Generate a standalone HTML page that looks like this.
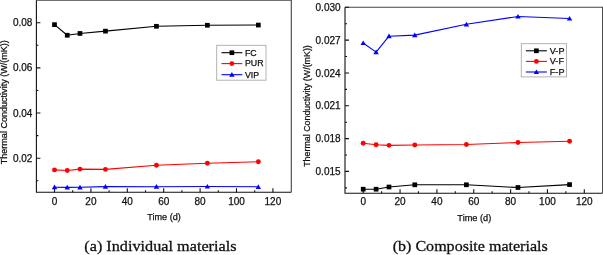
<!DOCTYPE html>
<html><head><meta charset="utf-8"><style>
html,body{margin:0;padding:0;background:#fff;}
svg{display:block;will-change:transform;}
text{stroke:#111;stroke-width:0.25px;}
svg{font-family:"Liberation Sans",sans-serif;}
</style></head><body>
<svg width="603" height="255" viewBox="0 0 603 255">
<rect width="603" height="255" fill="#fff"/>
<path d="M36.4 0.2H291.3V192.2" fill="none" stroke="#444" stroke-width="1.1"/>
<path d="M36.4 0.2V192.2H291.3" fill="none" stroke="#111" stroke-width="1.1"/>
<path d="M54.5 192.2v-4M90.9 192.2v-4M127.3 192.2v-4M163.7 192.2v-4M200.1 192.2v-4M236.5 192.2v-4M272.9 192.2v-4M72.7 192.2v-2M109.1 192.2v-2M145.5 192.2v-2M181.9 192.2v-2M218.3 192.2v-2M254.7 192.2v-2M36.4 158.2h4M36.4 113.03h4M36.4 67.87h4M36.4 22.7h4M36.4 180.78h2M36.4 135.62h2M36.4 90.45h2M36.4 45.28h2" fill="none" stroke="#111" stroke-width="1.1"/>
<g font-size="10" fill="#111"><text x="54.5" y="205" text-anchor="middle">0</text><text x="90.9" y="205" text-anchor="middle">20</text><text x="127.3" y="205" text-anchor="middle">40</text><text x="163.7" y="205" text-anchor="middle">60</text><text x="200.1" y="205" text-anchor="middle">80</text><text x="236.5" y="205" text-anchor="middle">100</text><text x="272.9" y="205" text-anchor="middle">120</text><text x="32.4" y="161.8" text-anchor="end">0.02</text><text x="32.4" y="116.63" text-anchor="end">0.04</text><text x="32.4" y="71.47" text-anchor="end">0.06</text><text x="32.4" y="26.3" text-anchor="end">0.08</text></g>
<text x="164" y="220" text-anchor="middle" font-size="9.1" fill="#111">Time (d)</text>
<text transform="translate(6.7,102.2) rotate(-90)" text-anchor="middle" font-size="9.05" fill="#111">Thermal Conductivity (W/(mK))</text>
<polyline points="54.5,24.65 67.24,35.25 79.98,33.45 105.46,31.15 156.42,26.3 207.38,25.25 258.34,25.05" fill="none" stroke="#000" stroke-width="1.1" stroke-linejoin="round"/>
<rect x="52.15" y="22.3" width="4.7" height="4.7" fill="#000"/>
<rect x="64.89" y="32.9" width="4.7" height="4.7" fill="#000"/>
<rect x="77.63" y="31.1" width="4.7" height="4.7" fill="#000"/>
<rect x="103.11" y="28.8" width="4.7" height="4.7" fill="#000"/>
<rect x="154.07" y="23.95" width="4.7" height="4.7" fill="#000"/>
<rect x="205.03" y="22.9" width="4.7" height="4.7" fill="#000"/>
<rect x="255.99" y="22.7" width="4.7" height="4.7" fill="#000"/>
<polyline points="54.5,169.9 67.24,170.5 79.98,169.1 105.46,169.4 156.42,165.2 207.38,163.2 258.34,161.8" fill="none" stroke="#f00" stroke-width="1.1" stroke-linejoin="round"/>
<circle cx="54.5" cy="169.9" r="2.45" fill="#f00"/>
<circle cx="67.24" cy="170.5" r="2.45" fill="#f00"/>
<circle cx="79.98" cy="169.1" r="2.45" fill="#f00"/>
<circle cx="105.46" cy="169.4" r="2.45" fill="#f00"/>
<circle cx="156.42" cy="165.2" r="2.45" fill="#f00"/>
<circle cx="207.38" cy="163.2" r="2.45" fill="#f00"/>
<circle cx="258.34" cy="161.8" r="2.45" fill="#f00"/>
<polyline points="54.5,187.2 67.24,187.4 79.98,187.3 105.46,186.6 156.42,186.7 207.38,186.5 258.34,186.8" fill="none" stroke="#00f" stroke-width="1.1" stroke-linejoin="round"/>
<path d="M54.5 184.61L57.2 189.31H51.8Z" fill="#00f"/>
<path d="M67.24 184.81L69.94 189.52H64.54Z" fill="#00f"/>
<path d="M79.98 184.72L82.68 189.42H77.28Z" fill="#00f"/>
<path d="M105.46 184.01L108.16 188.72H102.76Z" fill="#00f"/>
<path d="M156.42 184.11L159.12 188.81H153.72Z" fill="#00f"/>
<path d="M207.38 183.91L210.08 188.62H204.68Z" fill="#00f"/>
<path d="M258.34 184.22L261.04 188.92H255.64Z" fill="#00f"/>
<rect x="216.7" y="45.3" width="49.3" height="34.9" fill="#fff" stroke="#aaa" stroke-width="0.9"/>
<path d="M221.5 52.7H242.3" stroke="#000" stroke-width="1.1"/>
<rect x="229.55" y="50.35" width="4.7" height="4.7" fill="#000"/>
<text x="245" y="55.5" font-size="8.8" fill="#111">FC</text>
<path d="M221.5 63.6H242.3" stroke="#f00" stroke-width="1.1"/>
<circle cx="231.9" cy="63.6" r="2.45" fill="#f00"/>
<text x="245" y="66.4" font-size="8.8" fill="#111">PUR</text>
<path d="M221.5 74.7H242.3" stroke="#00f" stroke-width="1.1"/>
<path d="M231.9 72.12L234.6 76.81H229.2Z" fill="#00f"/>
<text x="245" y="77.5" font-size="8.8" fill="#111">VIP</text>
<path d="M345 7.3H602.6V193.2" fill="none" stroke="#444" stroke-width="1.1"/>
<path d="M345 7.3V193.2H602.6" fill="none" stroke="#111" stroke-width="1.1"/>
<path d="M363.2 193.2v-4M400.05 193.2v-4M436.9 193.2v-4M473.75 193.2v-4M510.6 193.2v-4M547.45 193.2v-4M584.3 193.2v-4M381.62 193.2v-2M418.47 193.2v-2M455.32 193.2v-2M492.17 193.2v-2M529.02 193.2v-2M565.88 193.2v-2M345 171.41h4M345 138.59h4M345 105.77h4M345 72.95h4M345 40.12h4M345 7.3h4M345 187.83h2M345 155h2M345 122.18h2M345 89.36h2M345 56.53h2M345 23.71h2" fill="none" stroke="#111" stroke-width="1.1"/>
<g font-size="10" fill="#111"><text x="363.2" y="204.6" text-anchor="middle">0</text><text x="400.05" y="204.6" text-anchor="middle">20</text><text x="436.9" y="204.6" text-anchor="middle">40</text><text x="473.75" y="204.6" text-anchor="middle">60</text><text x="510.6" y="204.6" text-anchor="middle">80</text><text x="547.45" y="204.6" text-anchor="middle">100</text><text x="584.3" y="204.6" text-anchor="middle">120</text><text x="340.6" y="175.01" text-anchor="end">0.015</text><text x="340.6" y="142.19" text-anchor="end">0.018</text><text x="340.6" y="109.37" text-anchor="end">0.021</text><text x="340.6" y="76.55" text-anchor="end">0.024</text><text x="340.6" y="43.72" text-anchor="end">0.027</text><text x="340.6" y="10.9" text-anchor="end">0.030</text></g>
<text x="474.3" y="220.8" text-anchor="middle" font-size="9.2" fill="#111">Time (d)</text>
<text transform="translate(310,106) rotate(-90)" text-anchor="middle" font-size="8.87" fill="#111">Thermal Conductivity (W/(mK))</text>
<polyline points="363.2,189.2 376.1,189.2 389,187 414.79,184.8 466.38,184.8 517.97,187.5 569.56,184.6" fill="none" stroke="#000" stroke-width="1.1" stroke-linejoin="round"/>
<rect x="360.85" y="186.85" width="4.7" height="4.7" fill="#000"/>
<rect x="373.75" y="186.85" width="4.7" height="4.7" fill="#000"/>
<rect x="386.64" y="184.65" width="4.7" height="4.7" fill="#000"/>
<rect x="412.44" y="182.45" width="4.7" height="4.7" fill="#000"/>
<rect x="464.03" y="182.45" width="4.7" height="4.7" fill="#000"/>
<rect x="515.62" y="185.15" width="4.7" height="4.7" fill="#000"/>
<rect x="567.21" y="182.25" width="4.7" height="4.7" fill="#000"/>
<polyline points="363.2,143.25 376.1,144.75 389,145.35 414.79,144.95 466.38,144.45 517.97,142.55 569.56,141.25" fill="none" stroke="#f00" stroke-width="1.1" stroke-linejoin="round"/>
<circle cx="363.2" cy="143.25" r="2.45" fill="#f00"/>
<circle cx="376.1" cy="144.75" r="2.45" fill="#f00"/>
<circle cx="389" cy="145.35" r="2.45" fill="#f00"/>
<circle cx="414.79" cy="144.95" r="2.45" fill="#f00"/>
<circle cx="466.38" cy="144.45" r="2.45" fill="#f00"/>
<circle cx="517.97" cy="142.55" r="2.45" fill="#f00"/>
<circle cx="569.56" cy="141.25" r="2.45" fill="#f00"/>
<polyline points="363.2,43 376.1,52.1 389,36.2 414.79,35.1 466.38,24.3 517.97,16.5 569.56,18.5" fill="none" stroke="#00f" stroke-width="1.1" stroke-linejoin="round"/>
<path d="M363.2 40.41L365.9 45.12H360.5Z" fill="#00f"/>
<path d="M376.1 49.52L378.8 54.22H373.39Z" fill="#00f"/>
<path d="M389 33.62L391.7 38.32H386.29Z" fill="#00f"/>
<path d="M414.79 32.52L417.49 37.22H412.09Z" fill="#00f"/>
<path d="M466.38 21.71L469.08 26.41H463.68Z" fill="#00f"/>
<path d="M517.97 13.91L520.67 18.62H515.27Z" fill="#00f"/>
<path d="M569.56 15.91L572.26 20.62H566.86Z" fill="#00f"/>
<rect x="521.3" y="43.7" width="45.2" height="33.2" fill="#fff" stroke="#aaa" stroke-width="0.9"/>
<path d="M525.9 50.8H546.9" stroke="#000" stroke-width="1.1"/>
<rect x="534.05" y="48.45" width="4.7" height="4.7" fill="#000"/>
<text x="549.8" y="53.7" font-size="9.1" fill="#111">V-P</text>
<path d="M525.9 61.4H546.9" stroke="#f00" stroke-width="1.1"/>
<circle cx="536.4" cy="61.4" r="2.45" fill="#f00"/>
<text x="549.8" y="64.3" font-size="9.1" fill="#111">V-F</text>
<path d="M525.9 72H546.9" stroke="#00f" stroke-width="1.1"/>
<path d="M536.4 69.42L539.1 74.11H533.7Z" fill="#00f"/>
<text x="549.8" y="74.9" font-size="9.1" fill="#111">F-P</text>
<text transform="translate(84.3,250.9) scale(1.047,1)" font-family="Liberation Serif" font-size="15.5" fill="#111" style="stroke-width:0.3px">(a) Individual materials</text>
<text transform="translate(392.7,250.9) scale(1.036,1)" font-family="Liberation Serif" font-size="15.5" fill="#111" style="stroke-width:0.3px">(b) Composite materials</text>
</svg>
</body></html>
